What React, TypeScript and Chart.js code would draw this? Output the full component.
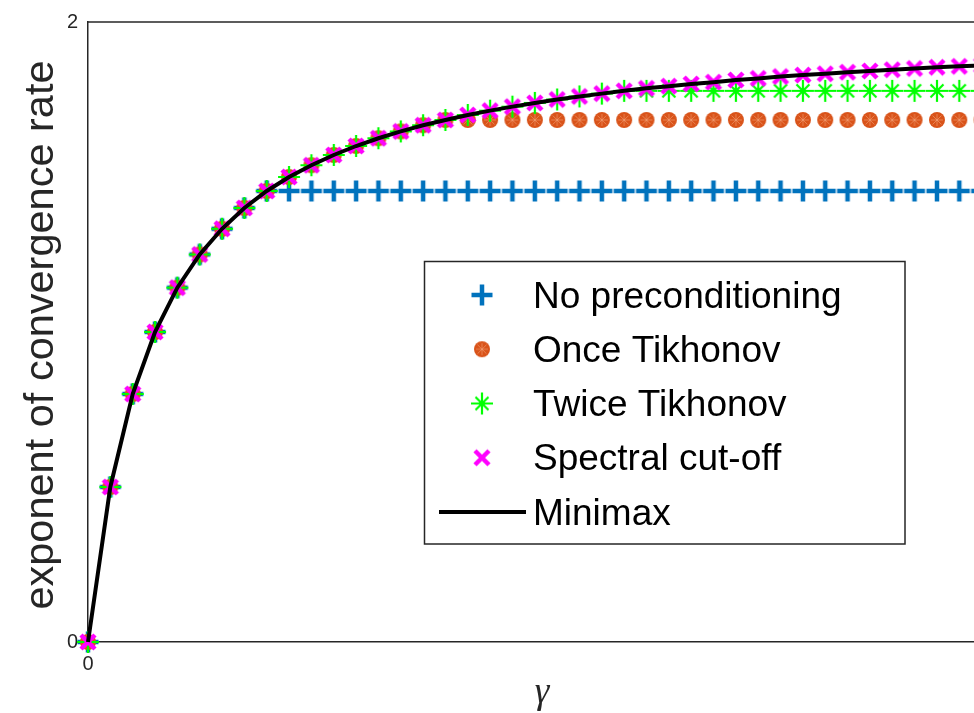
import React, { useEffect, useRef } from "react";
import { Chart, registerables } from "chart.js";

Chart.register(...registerables);

// gamma values (x)
const gammaValues = [
  0, 0.333, 0.667, 1, 1.333, 1.667, 2, 2.333, 2.667, 3, 3.333, 3.667, 4, 4.333, 4.667, 5, 5.333, 5.667, 6, 6.333,
  6.667, 7, 7.333, 7.667, 8, 8.333, 8.667, 9, 9.333, 9.667, 10, 10.333, 10.667, 11, 11.333, 11.667, 12, 12.333, 12.667, 13, 13.333,
];

const minimaxValues = [
  0, 0.5, 0.8, 1.0, 1.143, 1.25, 1.333, 1.4, 1.455, 1.5, 1.538, 1.571, 1.6, 1.625, 1.647, 1.667, 1.684, 1.7, 1.714, 1.727,
  1.739, 1.75, 1.76, 1.769, 1.778, 1.786, 1.793, 1.8, 1.806, 1.813, 1.818, 1.824, 1.829, 1.833, 1.838, 1.842, 1.846, 1.85, 1.854, 1.857, 1.86,
];

const noPrecondValues = [
  0, 0.5, 0.8, 1.0, 1.143, 1.25, 1.333, 1.4, 1.455, 1.455, 1.455, 1.455, 1.455, 1.455, 1.455, 1.455, 1.455, 1.455, 1.455, 1.455,
  1.455, 1.455, 1.455, 1.455, 1.455, 1.455, 1.455, 1.455, 1.455, 1.455, 1.455, 1.455, 1.455, 1.455, 1.455, 1.455, 1.455, 1.455, 1.455, 1.455, 1.455,
];

const onceTikhonovValues = [
  0, 0.5, 0.8, 1.0, 1.143, 1.25, 1.333, 1.4, 1.455, 1.5, 1.538, 1.571, 1.6, 1.625, 1.647, 1.667, 1.684, 1.684, 1.684, 1.684,
  1.684, 1.684, 1.684, 1.684, 1.684, 1.684, 1.684, 1.684, 1.684, 1.684, 1.684, 1.684, 1.684, 1.684, 1.684, 1.684, 1.684, 1.684, 1.684, 1.684, 1.684,
];

const twiceTikhonovValues = [
  0, 0.5, 0.8, 1.0, 1.143, 1.25, 1.333, 1.4, 1.455, 1.5, 1.538, 1.571, 1.6, 1.625, 1.647, 1.667, 1.684, 1.7, 1.714, 1.727,
  1.739, 1.75, 1.76, 1.769, 1.778, 1.778, 1.778, 1.778, 1.778, 1.778, 1.778, 1.778, 1.778, 1.778, 1.778, 1.778, 1.778, 1.778, 1.778, 1.778, 1.778,
];

const spectralValues = [
  0, 0.5, 0.8, 1.0, 1.143, 1.25, 1.333, 1.4, 1.455, 1.5, 1.538, 1.571, 1.6, 1.625, 1.647, 1.667, 1.684, 1.7, 1.714, 1.727,
  1.739, 1.75, 1.76, 1.769, 1.778, 1.786, 1.793, 1.8, 1.806, 1.813, 1.818, 1.824, 1.829, 1.833, 1.838, 1.842, 1.846, 1.85, 1.854, 1.857, 1.86,
];

const seriesLabels = ["No preconditioning", "Once Tikhonov", "Twice Tikhonov", "Spectral cut-off", "Minimax"];
const xTicks = [0];
const yTicks = [0, 2];
const xMax = 13.22;

const AXIS_COLOR = "#262626";

function makeMarker(kind: string): HTMLCanvasElement {
  const c = document.createElement("canvas");
  c.width = 26;
  c.height = 26;
  const ctx = c.getContext("2d")!;
  const m = 13;
  ctx.lineCap = "butt";
  if (kind === "plus") {
    ctx.strokeStyle = "#0072BD";
    ctx.lineWidth = 4.5;
    ctx.beginPath();
    ctx.moveTo(m - 10.5, m);
    ctx.lineTo(m + 10.5, m);
    ctx.moveTo(m, m - 10.5);
    ctx.lineTo(m, m + 10.5);
    ctx.stroke();
  } else if (kind === "circle") {
    ctx.fillStyle = "#D95319";
    ctx.beginPath();
    ctx.arc(m, m, 8, 0, Math.PI * 2);
    ctx.fill();
    ctx.strokeStyle = "rgba(245,170,130,0.55)";
    ctx.lineWidth = 1;
    ctx.beginPath();
    ctx.moveTo(m - 6, m);
    ctx.lineTo(m + 6, m);
    ctx.moveTo(m, m - 6);
    ctx.lineTo(m, m + 6);
    ctx.moveTo(m - 4.5, m - 4.5);
    ctx.lineTo(m + 4.5, m + 4.5);
    ctx.moveTo(m - 4.5, m + 4.5);
    ctx.lineTo(m + 4.5, m - 4.5);
    ctx.stroke();
  } else if (kind === "star") {
    ctx.strokeStyle = "#00FF00";
    ctx.lineWidth = 2.2;
    ctx.beginPath();
    ctx.moveTo(m - 11, m);
    ctx.lineTo(m + 11, m);
    ctx.moveTo(m, m - 11);
    ctx.lineTo(m, m + 11);
    ctx.moveTo(m - 6.5, m - 6.5);
    ctx.lineTo(m + 6.5, m + 6.5);
    ctx.moveTo(m - 6.5, m + 6.5);
    ctx.lineTo(m + 6.5, m - 6.5);
    ctx.stroke();
  } else if (kind === "x") {
    ctx.strokeStyle = "#FF00FF";
    ctx.lineWidth = 4.5;
    ctx.beginPath();
    ctx.moveTo(m - 7, m - 7);
    ctx.lineTo(m + 7, m + 7);
    ctx.moveTo(m - 7, m + 7);
    ctx.lineTo(m + 7, m - 7);
    ctx.stroke();
  }
  return c;
}

function pts(ys: number[]) {
  return gammaValues.map((x, i) => ({ x, y: ys[i] }));
}

export default function App() {
  const ref = useRef<HTMLCanvasElement | null>(null);

  useEffect(() => {
    const canvas = ref.current;
    if (!canvas) return;
    const markers = {
      plus: makeMarker("plus"),
      circle: makeMarker("circle"),
      star: makeMarker("star"),
      x: makeMarker("x"),
    };
    const markerList = [markers.plus, markers.circle, markers.star, markers.x];

    const decorPlugin = {
      id: "decor",
      afterDatasetsDraw(chart: any) {
        const { ctx, chartArea } = chart;
        ctx.save();
        // top border
        ctx.strokeStyle = AXIS_COLOR;
        ctx.lineWidth = 1.5;
        ctx.beginPath();
        ctx.moveTo(chartArea.left - 0.75, chartArea.top);
        ctx.lineTo(chartArea.right, chartArea.top);
        ctx.stroke();

        // legend box
        const bx = 424.5, by = 261.5, bw = 480.5, bh = 282.5;
        ctx.fillStyle = "#ffffff";
        ctx.fillRect(bx, by, bw, bh);
        ctx.strokeStyle = AXIS_COLOR;
        ctx.lineWidth = 1.5;
        ctx.strokeRect(bx, by, bw, bh);

        ctx.font = "37px 'Liberation Sans', Arial, Helvetica, sans-serif";
        ctx.fillStyle = "#000000";
        ctx.textAlign = "left";
        ctx.textBaseline = "alphabetic";
        const rowY0 = 295;
        const rowStep = 54.25;
        for (let i = 0; i < seriesLabels.length; i++) {
          const cy = rowY0 + i * rowStep;
          if (i < 4) {
            const img = markerList[i];
            ctx.drawImage(img, 482 - img.width / 2, cy - img.height / 2);
          } else {
            ctx.strokeStyle = "#000000";
            ctx.lineWidth = 4;
            ctx.beginPath();
            ctx.moveTo(439, cy);
            ctx.lineTo(526, cy);
            ctx.stroke();
          }
          ctx.fillText(seriesLabels[i], 533, cy + 12.5);
        }

        // axis titles
        ctx.fillStyle = AXIS_COLOR;
        ctx.font = "41.5px 'Liberation Sans', Arial, Helvetica, sans-serif";
        ctx.textAlign = "center";
        ctx.save();
        ctx.translate(53, 335);
        ctx.rotate(-Math.PI / 2);
        ctx.fillText("exponent of convergence rate", 0, 0);
        ctx.restore();

        ctx.font = "italic 37px 'Liberation Serif', 'Times New Roman', serif";
        ctx.fillText("γ", 542, 703);
        ctx.restore();
      },
    };

    const chart = new Chart(canvas, {
      type: "scatter",
      data: {
        datasets: [
          {
            label: seriesLabels[4],
            data: pts(minimaxValues),
            showLine: true,
            borderColor: "#000000",
            borderWidth: 4,
            pointRadius: 0,
            fill: false,
            order: 0,
            clip: false,
          } as any,
          {
            label: seriesLabels[3],
            data: pts(spectralValues),
            showLine: false,
            pointStyle: markers.x,
            pointRadius: 10,
            order: 1,
            clip: false,
          },
          {
            label: seriesLabels[2],
            data: pts(twiceTikhonovValues),
            showLine: false,
            pointStyle: markers.star,
            pointRadius: 10,
            order: 2,
            clip: false,
          },
          {
            label: seriesLabels[1],
            data: pts(onceTikhonovValues),
            showLine: false,
            pointStyle: markers.circle,
            pointRadius: 10,
            order: 3,
            clip: false,
          },
          {
            label: seriesLabels[0],
            data: pts(noPrecondValues),
            showLine: false,
            pointStyle: markers.plus,
            pointRadius: 10,
            order: 4,
            clip: false,
          },
        ],
      },
      options: {
        responsive: false,
        animation: false,
        devicePixelRatio: 1,
        layout: { autoPadding: false, padding: { top: 22, right: 0, left: 0, bottom: 0 } },
        plugins: {
          legend: { display: false },
          tooltip: { enabled: false },
        },
        scales: {
          x: {
            type: "linear",
            min: 0,
            max: xMax,
            grid: { display: false, drawTicks: false },
            border: { display: true, color: AXIS_COLOR, width: 1.5 },
            ticks: {
              padding: 10,
              color: AXIS_COLOR,
              font: { size: 20, family: "'Liberation Sans', Arial, sans-serif" },
              maxRotation: 0,
            },
            afterBuildTicks: (scale: any) => {
              scale.ticks = xTicks.map((v) => ({ value: v }));
            },
            afterFit: (scale: any) => {
              scale.height = 71;
              scale.paddingLeft = 0;
              scale.paddingRight = 0;
            },
          },
          y: {
            type: "linear",
            min: 0,
            max: 2,
            grid: { display: false, drawTicks: false },
            border: { display: true, color: AXIS_COLOR, width: 1.5 },
            ticks: {
              padding: 10,
              color: AXIS_COLOR,
              font: { size: 20, family: "'Liberation Sans', Arial, sans-serif" },
            },
            afterBuildTicks: (scale: any) => {
              scale.ticks = yTicks.map((v) => ({ value: v }));
            },
            afterFit: (scale: any) => {
              scale.width = 88;
              scale.paddingTop = 0;
              scale.paddingBottom = 0;
            },
          },
        },
      },
      plugins: [decorPlugin],
    });

    return () => {
      chart.destroy();
    };
  }, []);

  return (
    <div style={{ position: "fixed", left: 0, top: 0, width: 974, height: 713, background: "#ffffff", overflow: "hidden" }}>
      <canvas ref={ref} width={974} height={713} style={{ display: "block", width: 974, height: 713 }} />
    </div>
  );
}
